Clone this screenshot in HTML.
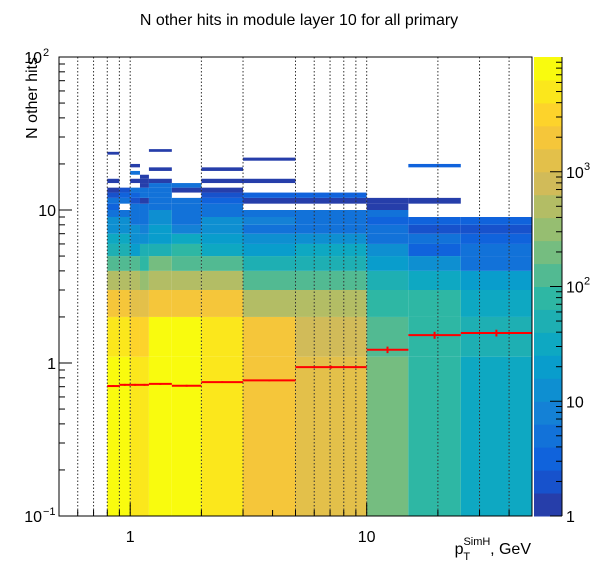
<!DOCTYPE html>
<html><head><meta charset="utf-8"><style>
html,body{margin:0;padding:0;background:#fff;}
svg{display:block;font-family:"Liberation Sans",Arial,sans-serif;}
</style></head><body>
<svg id="chart" width="598" height="575" viewBox="0 0 598 575" xmlns="http://www.w3.org/2000/svg">
<rect x="0" y="0" width="598" height="575" fill="#fff"/>
<text x="299" y="25" font-size="16" text-anchor="middle" fill="#000">N other hits in module layer 10 for all primary</text>
<g id="cells"></g>
<g id="grid"></g>
<g id="prof"></g>
<g id="axes"></g>
<g id="cbar"></g>
<text transform="translate(37,57) rotate(-90)" font-size="16" text-anchor="end" fill="#000">N other hits</text>
<text x="531" y="554" font-size="16" text-anchor="end" fill="#000">p<tspan font-size="11" dy="-9">SimH</tspan><tspan font-size="11" dx="-27" dy="15">T</tspan><tspan dy="-6" dx="20">, GeV</tspan></text>
</svg>
<script>
// ---- data ----
const xEdges = [0.8,0.9,1.0,1.1,1.2,1.5,2,3,5,10,15,25,50];
const yEdges = [0.1,1.1,2,3,4,5,6,7,8,9,10,11,12,13,14,15,16,17,18,19,20,21,22,23,24,25,26];
const col0  = [8000,6000,2000,600,150,60,30,15,12,5,3,4,2,1,0,1,0,0,0,0,0,0,0,1];
const col1  = [8000,6000,2000,600,150,60,30,15,10,4,0,5,3,2];
const col2  = [4000,3500,1500,400,150,25,15,10,5,5,5,2,3,4,0,1,0,4,0,1];
const col3  = [4000,3000,1100,300,80,40,12,8,5,5,5,1,4,4,1,1,1];
const col4  = [8000,8000,2000,600,250,60,25,20,12,10,5,5,5,5,4,1,0,0,1,0,0,0,0,0,1];
const col5  = [8000,8000,2000,600,150,80,30,8,5,5,5,5,0,1,4];
const col6  = [6000,4000,1800,600,150,30,25,10,10,5,4,3,2,1,0,1,0,0,1];
const col7  = [2500,2000,600,150,60,25,10,5,8,4,0,1,3,0,0,1,0,0,0,0,0,1];
const col8  = [1000,900,600,150,60,30,10,6,6,4,0,1,3];
const col9  = [250,120,70,45,25,10,5,4,3,4,1,1];
const col10 = [80,90,70,35,12,3,4,2,3,0,0,1,0,0,0,0,0,0,0,3];
const col11 = [35,50,30,25,5,5,3,2,3];
const columns = [col0,col1,col2,col3,col4,col5,col6,col7,col8,col9,col10,col11];
const profMean = [0.707,0.72,0.72,0.72,0.73,0.71,0.75,0.77,0.94,1.22,1.52,1.57];
const profErr  = [0.01,0.01,0.01,0.01,0.01,0.01,0.01,0.01,0.02,0.06,0.08,0.08];
const xGridVals = [0.6,0.7,0.8,0.9,1,2,3,5,6,7,8,9,10,20,30,40];
const xMinorTicks = [0.6,0.7,0.8,0.9,2,3,4,5,6,7,8,9,20,30,40];
const xMajorTicks = [1,10];
const xMajorLabels = ["1","10"];
const yMinorTicks = [0.2,0.3,0.4,0.5,0.6,0.7,0.8,0.9,2,3,4,5,6,7,8,9,20,30,40,50,60,70,80,90];
const yMajorTicks = [0.1,1,10,100];
const zMax = 10000;

// ---- geometry ----
const L=59,R=532,T=57,B=516;
const xLo=0.5,xHi=50,yLo=0.1,yHi=100;
const NS="http://www.w3.org/2000/svg";
function X(v){return L+(R-L)*(Math.log10(v)-Math.log10(xLo))/(Math.log10(xHi)-Math.log10(xLo));}
function Y(v){return B-(B-T)*(Math.log10(v)-Math.log10(yLo))/(Math.log10(yHi)-Math.log10(yLo));}
const stops=[[0.2082,0.1664,0.5293],[0.0592,0.3599,0.8684],[0.0780,0.5041,0.8385],[0.0232,0.6419,0.7914],[0.1802,0.7178,0.6425],[0.5301,0.7492,0.4662],[0.8186,0.7328,0.3499],[0.9956,0.7862,0.1968],[0.9764,0.9832,0.0539]];
function pal(t){t=Math.max(0,Math.min(1,t));const f=t*8,i=Math.min(7,Math.floor(f)),u=f-i;
 const c=stops[i].map((a,k)=>Math.round(255*(a+(stops[i+1][k]-a)*u)));return `rgb(${c[0]},${c[1]},${c[2]})`;}
const NL=20;
function lc(lev){return pal(0.05+0.95*lev/(NL-1));}
function zcol(z){const t=Math.log10(z)/Math.log10(zMax);const lev=Math.min(NL-1,Math.max(0,Math.floor(t*NL)));return lc(lev);}
function mk(tag,attrs,parent){const e=document.createElementNS(NS,tag);for(const k in attrs)e.setAttribute(k,attrs[k]);parent.appendChild(e);return e;}

// ---- cells ----
const gc=document.getElementById('cells');
columns.forEach((col,i)=>{
 col.forEach((z,j)=>{
  if(!z)return;
  const x0=X(xEdges[i]),x1=X(xEdges[i+1]);
  const y0=Y(Math.max(yEdges[j],yLo)),y1=Y(yEdges[j+1]);
  const r=mk('rect',{x:x0,y:y1,width:x1-x0,height:y0-y1,fill:zcol(z)},gc);
  
  
 });
});

// ---- grid ----
const gg=document.getElementById('grid');
xGridVals.forEach(v=>{
 const l=mk('line',{x1:X(v),x2:X(v),y1:T,y2:B,stroke:'#333','stroke-width':1,'stroke-dasharray':'1.5,2'},gg);
 
 
});

// ---- profile ----
const gp=document.getElementById('prof');
profMean.forEach((m,i)=>{
 const x0=X(xEdges[i]),x1=X(xEdges[i+1]),xc=X(Math.sqrt(xEdges[i]*xEdges[i+1]));
 const h=mk('line',{x1:x0,x2:x1,y1:Y(m),y2:Y(m),stroke:'#f00','stroke-width':2},gp);
 
 
 const v=mk('line',{x1:xc,x2:xc,y1:Y(m-profErr[i]),y2:Y(m+profErr[i]),stroke:'#f00','stroke-width':2},gp);
 
 
});

// ---- axes ----
const ga=document.getElementById('axes');
mk('rect',{x:L,y:T,width:R-L,height:B-T,fill:'none',stroke:'#000','stroke-width':1},ga);
xMinorTicks.forEach(v=>{const t=mk('line',{x1:X(v),x2:X(v),y1:B,y2:B-6,stroke:'#000'},ga);
 
 });
xMajorTicks.forEach((v,i)=>{const t=mk('line',{x1:X(v),x2:X(v),y1:B,y2:B-13,stroke:'#000'},ga);
 
 
 const tx=mk('text',{x:X(v),y:542,'font-size':16,'text-anchor':'middle'},ga);tx.textContent=xMajorLabels[i];
 
 });
yMinorTicks.forEach(v=>{const t=mk('line',{x1:L,x2:L+6,y1:Y(v),y2:Y(v),stroke:'#000'},ga);
 
 });
const yLab=[["10","−1"],["1",""],["10",""],["10","2"]];
yMajorTicks.forEach((v,i)=>{const t=mk('line',{x1:L,x2:L+13,y1:Y(v),y2:Y(v),stroke:'#000'},ga);
 
 
 const tx=mk('text',{x:yLab[i][1]?L-17:L-3,y:Y(v)+6,'font-size':16,'text-anchor':'end'},ga);tx.textContent=yLab[i][0];
 
 
 if(yLab[i][1]){const s=mk('text',{x:L-16,y:Y(v)-1,'font-size':11,'text-anchor':'start'},ga);s.textContent=yLab[i][1];
  
  }
});

// ---- color bar ----
const gb=document.getElementById('cbar');
const CL=534,CR=562;
for(let k=0;k<NL;k++){
 const y1=B-(B-T)*k/NL,y0=B-(B-T)*(k+1)/NL;
 const r=mk('rect',{x:CL,y:y0,width:CR-CL,height:y1-y0+0.5,fill:lc(k)},gb);
 
 
}
mk('line',{x1:CR,x2:CR,y1:T,y2:B,stroke:'#000'},gb);
function ZY(z){return B-(B-T)*Math.log10(z)/Math.log10(zMax);}
[2,3,4,5,6,7,8,9,20,30,40,50,60,70,80,90,200,300,400,500,600,700,800,900,2000,3000,4000,5000,6000,7000,8000,9000].forEach(z=>{
 const t=mk('line',{x1:CR,x2:CR-6,y1:ZY(z),y2:ZY(z),stroke:'#000'},gb);
 
 });
const zLab=[[1,"1",""],[10,"10",""],[100,"10","2"],[1000,"10","3"]];
zLab.forEach(a=>{const t=mk('line',{x1:CR,x2:CR-12,y1:ZY(a[0]),y2:ZY(a[0]),stroke:'#000'},gb);
 
 
 const tx=mk('text',{x:CR+4,y:ZY(a[0])+6,'font-size':16},gb);tx.textContent=a[1];
 
 
 if(a[2]){const s=mk('text',{x:CR+22,y:ZY(a[0])-2,'font-size':11},gb);s.textContent=a[2];
  
  }
});
</script>
</body></html>
